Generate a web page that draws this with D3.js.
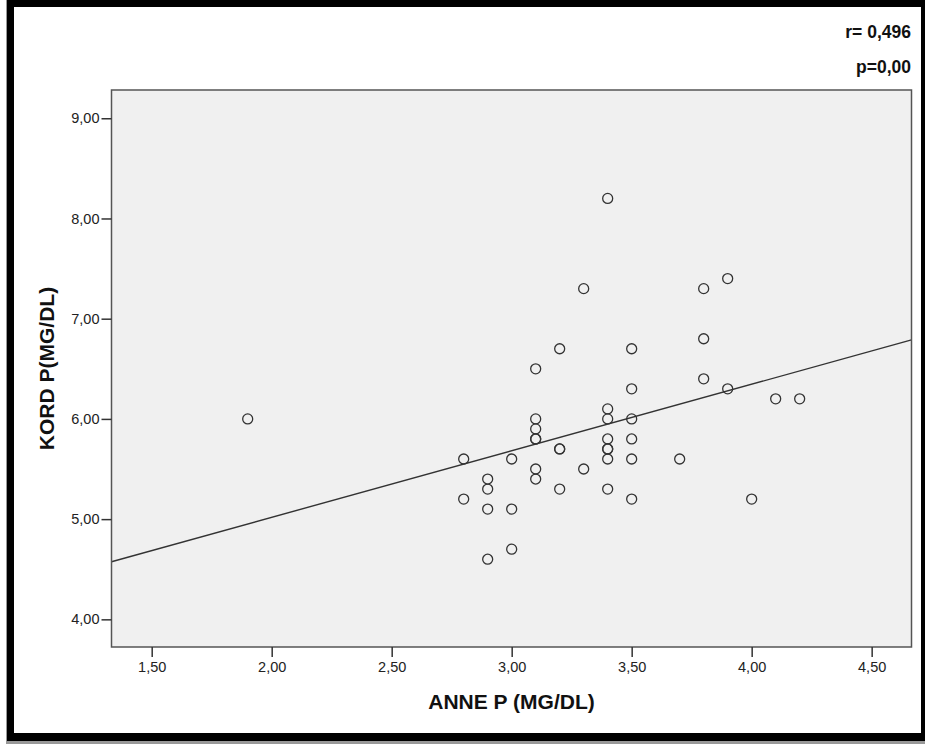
<!DOCTYPE html>
<html>
<head>
<meta charset="utf-8">
<script src="https://cdn.jsdelivr.net/npm/d3@7"></script>
<style>
    body { margin: 0; background: #fff; }
    svg { display: block; font-family: "Liberation Sans", Arial, sans-serif; }
</style>
</head>
<body>
<div id="chart"></div>
<script>
// Scatter data: ANNE P (x) against KORD P (y), one entry per case.
const anneP = [1.9, 2.8, 2.8, 2.9, 2.9, 2.9, 2.9, 3.0, 3.0, 3.0,
    3.1, 3.1, 3.1, 3.1, 3.1, 3.1, 3.1, 3.2, 3.2, 3.2, 3.2, 3.3, 3.3,
    3.4, 3.4, 3.4, 3.4, 3.4, 3.4, 3.4, 3.4, 3.5, 3.5, 3.5, 3.5, 3.5, 3.5,
    3.7, 3.8, 3.8, 3.8, 3.9, 3.9, 4.0, 4.1, 4.2];
const kordP = [6.0, 5.6, 5.2, 5.4, 5.3, 5.1, 4.6, 5.6, 5.1, 4.7,
    6.5, 6.0, 5.9, 5.8, 5.8, 5.5, 5.4, 6.7, 5.7, 5.7, 5.3, 7.3, 5.5,
    8.2, 6.1, 6.0, 5.8, 5.7, 5.7, 5.6, 5.3, 6.7, 6.3, 6.0, 5.8, 5.6, 5.2,
    5.6, 7.3, 6.8, 6.4, 7.4, 6.3, 5.2, 6.2, 6.2];

// Fit line.
const fitIntercept = 3.69;
const fitSlope = 0.664;

const xTicks = [1.5, 2.0, 2.5, 3.0, 3.5, 4.0, 4.5];
const yTicks = [4, 5, 6, 7, 8, 9];
const statLines = ["r= 0,496", "p=0,00"];

const fmt = v => d3.format(".2f")(v).replace(".", ",");

const width = 925, height = 744;
const margin = { top: 90, left: 111.5, right: 13.5, bottom: 97 };
const innerW = width - margin.left - margin.right;
const innerH = height - margin.top - margin.bottom;

const svg = d3.select("#chart").append("svg")
    .attr("width", width)
    .attr("height", height);

// Black picture frame.
svg.append("rect").attr("x", 6).attr("y", 0).attr("width", 1).attr("height", 744).style("fill", "#999");
svg.append("rect").attr("x", 6).attr("y", 741).attr("width", 919).attr("height", 3).style("fill", "#999");
svg.append("rect").attr("x", 7).attr("y", 0).attr("width", 918).attr("height", 741).style("fill", "#000");
svg.append("rect").attr("x", 14).attr("y", 7).attr("width", 907).attr("height", 726).style("fill", "#fff");

const x = d3.scaleLinear().domain([1.3325, 4.666]).range([0, innerW]);
const y = d3.scaleLinear().domain([3.724, 9.282]).range([innerH, 0]);

const g = svg.append("g")
    .attr("transform", "translate(" + margin.left + "," + margin.top + ")");

g.append("rect")
    .attr("width", innerW)
    .attr("height", innerH)
    .style("fill", "#f0f0f0");

// Fit line.
g.append("line")
    .attr("x1", x(x.domain()[0]))
    .attr("y1", y(fitIntercept + fitSlope * x.domain()[0]))
    .attr("x2", x(x.domain()[1]))
    .attr("y2", y(fitIntercept + fitSlope * x.domain()[1]))
    .style("stroke", "#333")
    .style("stroke-width", 1.4);

// Points.
g.selectAll("circle.pt")
    .data(anneP.map((v, i) => [v, kordP[i]]))
    .join("circle")
    .attr("class", "pt")
    .attr("cx", d => x(d[0]))
    .attr("cy", d => y(d[1]))
    .attr("r", 5)
    .style("fill", "none")
    .style("stroke", "#333")
    .style("stroke-width", 1.3);

// Plot border.
g.append("rect")
    .attr("width", innerW)
    .attr("height", innerH)
    .style("fill", "none")
    .style("stroke", "#555")
    .style("stroke-width", 1.5);

// Axes.
const xAxis = g.append("g")
    .attr("transform", "translate(0," + innerH + ")")
    .call(d3.axisBottom(x).tickValues(xTicks).tickFormat(fmt).tickSize(10).tickPadding(5));

const yAxis = g.append("g")
    .call(d3.axisLeft(y).tickValues(yTicks).tickFormat(fmt).tickSize(10).tickPadding(2));

[xAxis, yAxis].forEach(ax => {
    ax.select(".domain").remove();
    ax.selectAll(".tick line").style("stroke", "#333").style("stroke-width", 1.5);
    ax.selectAll(".tick text")
        .style("font-family", "'Liberation Sans', Arial, sans-serif")
        .style("font-size", "14.5px")
        .style("fill", "#222");
});

// Axis titles.
svg.append("text")
    .attr("x", margin.left + innerW / 2)
    .attr("y", 709)
    .style("text-anchor", "middle")
    .style("font-size", "21px")
    .style("font-weight", "bold")
    .style("fill", "#111")
    .text("ANNE P (MG/DL)");

svg.append("text")
    .attr("transform", "translate(54," + (margin.top + innerH / 2) + ") rotate(-90)")
    .style("text-anchor", "middle")
    .style("font-size", "21px")
    .style("font-weight", "bold")
    .style("fill", "#111")
    .text("KORD P(MG/DL)");

// Correlation annotation.
svg.selectAll("text.stat")
    .data(statLines)
    .join("text")
    .attr("class", "stat")
    .attr("x", 911)
    .attr("y", (d, i) => 38 + i * 35)
    .style("text-anchor", "end")
    .style("font-size", "17.5px")
    .style("font-weight", "bold")
    .style("fill", "#111")
    .text(d => d);
</script>
</body>
</html>
